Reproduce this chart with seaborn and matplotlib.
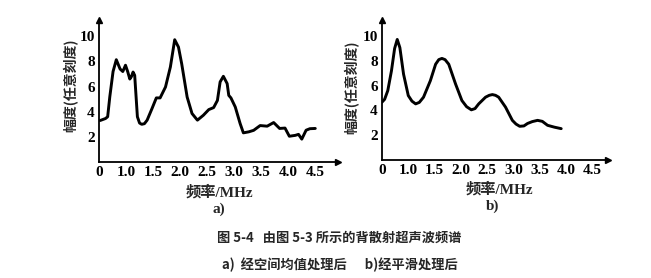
import matplotlib
matplotlib.use("Agg")
import matplotlib.pyplot as plt
import seaborn as sns
import pandas as pd

# ---------------- data ----------------
freq_a = [0.52, 0.62, 0.66, 0.70, 0.76, 0.82, 0.89, 0.94, 0.99, 1.03, 1.07, 1.10, 1.13,
          1.16, 1.21, 1.25, 1.29, 1.34, 1.39, 1.48, 1.56, 1.63, 1.73, 1.82, 1.90, 1.97,
          2.03, 2.13, 2.22, 2.32, 2.43, 2.53, 2.62, 2.69, 2.74, 2.80, 2.87, 2.90, 2.94,
          3.02, 3.11, 3.17, 3.27, 3.36, 3.48, 3.61, 3.73, 3.84, 3.94, 4.02, 4.13, 4.19,
          4.25, 4.33, 4.40, 4.50]
amp_a = [3.3, 3.46, 3.6, 5.2, 7.2, 8.14, 7.4, 7.2, 7.7, 7.2, 6.6, 6.8, 7.16,
         6.9, 3.6, 3.1, 3.0, 3.05, 3.33, 4.25, 5.1, 5.1, 5.97, 7.56, 9.73, 9.14,
         7.8, 5.17, 3.86, 3.33, 3.72, 4.17, 4.33, 4.9, 6.37, 6.82, 6.24, 5.3, 5.1,
         4.38, 3.06, 2.32, 2.4, 2.52, 2.9, 2.85, 3.14, 2.67, 2.7, 2.05, 2.12, 2.2,
         1.82, 2.53, 2.65, 2.67]

freq_b = [0.50, 0.55, 0.61, 0.68, 0.74, 0.79, 0.84, 0.91, 1.00, 1.07, 1.14, 1.21, 1.29,
          1.42, 1.52, 1.58, 1.64, 1.70, 1.77, 1.90, 2.02, 2.11, 2.20, 2.27, 2.34, 2.47,
          2.54, 2.60, 2.66, 2.72, 2.85, 2.98, 3.05, 3.12, 3.20, 3.27, 3.36, 3.46, 3.55,
          3.65, 3.78, 3.91]
amp_b = [4.67, 4.9, 5.6, 7.2, 9.0, 9.73, 9.07, 6.93, 5.2, 4.75, 4.53, 4.65, 5.07,
         6.4, 7.73, 8.1, 8.2, 8.1, 7.73, 6.13, 4.8, 4.3, 4.05, 4.15, 4.53, 5.07,
         5.22, 5.28, 5.22, 5.07, 4.27, 3.2, 2.9, 2.72, 2.75, 2.95, 3.1, 3.2, 3.12,
         2.8, 2.65, 2.53]

xtick_pos = [0.5, 1.0, 1.5, 2.0, 2.5, 3.0, 3.5, 4.0, 4.5]
xtick_labels = ["0", "1.0", "1.5", "2.0", "2.5", "3.0", "3.5", "4.0", "4.5"]
ytick_pos = [2, 4, 6, 8, 10]

xlabel = "频率/MHz"
ylabel = "幅度(任意刻度)"
caption1 = "图 5-4   由图 5-3 所示的背散射超声波频谱"
caption2 = "a)  经空间均值处理后      b)经平滑处理后"

# ---------------- style ----------------
sns.set_theme(style="white")
plt.rcParams['font.family'] = ['Liberation Serif', 'Noto Sans CJK SC']
serif_cjk = ['Liberation Serif', 'Noto Sans CJK SC']

W, H = 651, 278
fig = plt.figure(figsize=(W / 100, H / 100), dpi=100)


def fx(px):
    return px / W


def fy(py):
    return 1 - py / H


def make_axes(x0, x1, y0, y1):
    return fig.add_axes([fx(x0), fy(y1), fx(x1) - fx(x0), fy(y0) - fy(y1)])


ax_a = make_axes(99, 338, 20, 162)
ax_b = make_axes(382, 608, 20, 160)

df_a = pd.DataFrame({"freq": freq_a, "amp": amp_a})
df_b = pd.DataFrame({"freq": freq_b, "amp": amp_b})

sns.lineplot(data=df_a, x="freq", y="amp", ax=ax_a, color="black", lw=2.1, sort=False)
sns.lineplot(data=df_b, x="freq", y="amp", ax=ax_b, color="black", lw=2.1, sort=False)

specs = (
    (ax_a, 4.92, "a)", 71, 85, 0.502, 0.502),
    (ax_b, 4.8, "b)", 352, 87, 0.518, 0.491),
)
for ax, xmax, tag, ylab_px, ylab_py, xl_frac, tag_frac in specs:
    ax.set_xlim(0.5, xmax)
    ax.set_ylim(0, 11.3)
    ax.set_xticks(xtick_pos)
    ax.set_xticklabels(xtick_labels)
    ax.set_yticks(ytick_pos)
    ax.set_yticklabels([str(v) for v in ytick_pos])
    for s in ("top", "right"):
        ax.spines[s].set_visible(False)
    for s in ("left", "bottom"):
        ax.spines[s].set_color("black")
        ax.spines[s].set_linewidth(1.3)
    ax.tick_params(direction="in", length=4, width=1.2, color="black",
                   labelsize=11, pad=3)
    for lab in ax.get_xticklabels() + ax.get_yticklabels():
        lab.set_fontweight("bold")
        lab.set_color("black")
    ax.set_xlabel("")
    ax.set_ylabel("")
    # axis arrows
    ax.plot(1, 0, ">", color="black", transform=ax.transAxes, clip_on=False, ms=5)
    ax.plot(0, 1, "^", color="black", transform=ax.transAxes, clip_on=False, ms=5)
    ax.text(xl_frac, -0.21, xlabel, transform=ax.transAxes, ha="center",
            va="center", fontsize=11, fontweight="bold", family=serif_cjk)
    ax.text(tag_frac, -0.33, tag, transform=ax.transAxes, ha="center", va="center",
            fontsize=11, fontweight="bold", family=serif_cjk)
    fig.text(fx(ylab_px), fy(ylab_py), ylabel, rotation=90, ha="center", va="center",
             fontsize=10, fontweight="bold", family=['Noto Sans CJK SC', 'Liberation Serif'])

fig.text(fx(339), fy(238), caption1, ha="center", va="center", fontsize=9.5,
         fontweight="bold", family=['Noto Sans CJK SC', 'DejaVu Sans'])
fig.text(fx(222), fy(265), caption2, ha="left", va="center", fontsize=9.5,
         fontweight="bold", family=['Noto Sans CJK SC', 'DejaVu Sans'])

fig.savefig("out.png", dpi=100, facecolor="white")
